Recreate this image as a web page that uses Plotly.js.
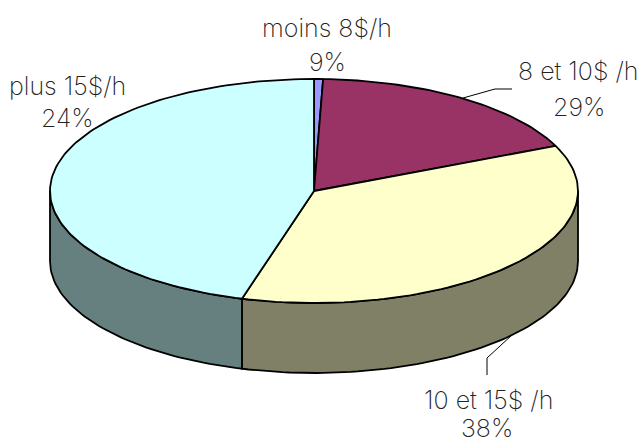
<!DOCTYPE html>
<html><head><meta charset="utf-8">
<script src="https://cdn.plot.ly/plotly-3.0.1.min.js"></script>
<style>html,body{margin:0;padding:0;background:#fff}#c{width:643px;height:443px}</style>
</head><body><div id="c"></div>
<script>
const categories = ["moins 8$/h", "8 et 10$ /h", "10 et 15$ /h", "plus 15$/h"];
const printedPercents = ["9%", "29%", "38%", "24%"];
// Shares actually drawn in the picture (they differ from the printed labels)
const drawnShares = [0.55, 17.85, 36.0, 45.6];
const topColors = ["#9999FF", "#993366", "#FFFFCC", "#CCFFFF"];
const sideColors = ["#4D4D80", "#4D1A33", "#808066", "#668080"];
const nameX = [327, 578, 488, 67];
const nameY = [28, 71, 400, 86];
const percentX = [327, 579, 487, 67];
const percentY = [62, 107, 428, 118];

const cx = 314, cy = 191, rx = 264, ry = 112, depth = 70;
const pt = (deg, dz) => {
  const t = deg * Math.PI / 180;
  return [cx + rx * Math.sin(t), cy - ry * Math.cos(t) + dz];
};
const arc = (a, b, dz) => {
  const n = Math.max(2, Math.ceil(Math.abs(b - a) / 1.5));
  const out = [];
  for (let i = 0; i <= n; i++) out.push(pt(a + (b - a) * i / n, dz));
  return out;
};
const poly = (pts, fill) => ({
  type: "scatter", mode: "lines", x: pts.map(p => p[0]), y: pts.map(p => p[1]),
  fill: "toself", fillcolor: fill, line: {color: "#000", width: 1.8},
  hoverinfo: "skip", showlegend: false
});

const sides = [], tops = [];
let cum = 0;
drawnShares.forEach((s, i) => {
  const a = cum / 100 * 360, b = (cum + s) / 100 * 360;
  cum += s;
  const lo = Math.max(a, 90), hi = Math.min(b, 270);
  if (hi > lo) {
    const pts = arc(lo, hi, 0).concat(arc(hi, lo, depth));
    pts.push(pts[0]);
    sides.push(poly(pts, sideColors[i]));
  }
  const pts = [[cx, cy]].concat(arc(a, b, 0));
  pts.push([cx, cy]);
  tops.push(poly(pts, topColors[i]));
});

const font = {family: "Inter, 'DejaVu Sans', sans-serif", size: 25, color: "#222", weight: 200};
const note = (x, y, text) => ({x, y, xref: "x", yref: "y", showarrow: false, text, font,
  align: "center", xanchor: "center", yanchor: "middle"});
const annotations = categories.map((c, i) => note(nameX[i], nameY[i], c))
  .concat(printedPercents.map((p, i) => note(percentX[i], percentY[i], p)));
const leader = pts => ({type: "path", xref: "x", yref: "y",
  path: "M" + pts.map(p => p.join(",")).join("L"), line: {color: "#000", width: 1}});
const shapes = [
  leader([[463, 98], [495, 89], [512, 89]]),
  leader([[512, 335], [487, 358], [487, 375]])
];

Plotly.newPlot("c", sides.concat(tops), {
  width: 643, height: 443, margin: {l: 0, r: 0, t: 0, b: 0},
  paper_bgcolor: "#fff", plot_bgcolor: "#fff", showlegend: false,
  xaxis: {range: [0, 643], visible: false, fixedrange: true},
  yaxis: {range: [443, 0], visible: false, fixedrange: true},
  annotations, shapes
}, {displayModeBar: false, staticPlot: true});
</script></body></html>
